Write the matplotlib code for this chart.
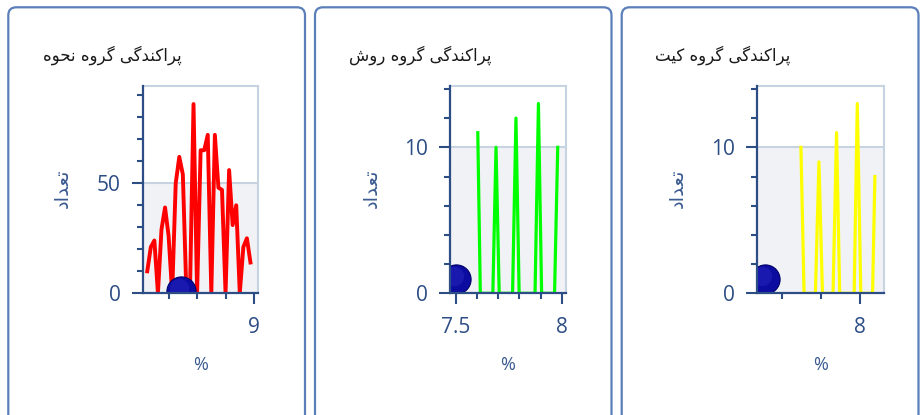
import matplotlib
matplotlib.use("Agg")
import matplotlib.pyplot as plt
from matplotlib.patches import FancyBboxPatch
from matplotlib.ticker import MultipleLocator, FixedLocator
from matplotlib.transforms import offset_copy

#--------------- Data ---------------------
titles = ["پراکندگی گروه نحوه", "پراکندگی گروه روش", "پراکندگی گروه کیت"]
ylabel = "تعداد"
xlabel = "%"

# group 1 (red)
x1 = [8.25 + 0.025 * i for i in range(30)]
y1 = [10, 21, 24, 0, 29, 39, 26, 0, 50, 62, 54, 0, 0, 86, 0,
      65, 65, 72, 0, 72, 48, 47, 0, 56, 31, 40, 0, 21, 25, 14]
# group 2 (green)
x2 = [7.604, 7.616, 7.675, 7.690, 7.705, 7.768, 7.784, 7.799, 7.874, 7.890, 7.905, 7.966, 7.981]
y2 = [11, 0, 0, 10, 0, 0, 12, 0, 0, 13, 0, 0, 10]
# group 3 (yellow)
x3 = [7.849, 7.857, 7.886, 7.895, 7.904, 7.931, 7.940, 7.948, 7.985, 7.993, 8.002, 8.032, 8.038]
y3 = [10, 0, 0, 9, 0, 0, 11, 0, 0, 13, 0, 0, 8]

# marker (ball) positions
ball_x = [8.49, 7.5, 7.756]
ball_y = [1, 1, 1]

#--------------- Persian shaping (no bidi lib available) ---------------
FORMS = {
    'پ': (0xFB56, 0xFB57, 0xFB58, 0xFB59),
    'ر': (0xFEAD, 0xFEAE),
    'ا': (0xFE8D, 0xFE8E),
    'ک': (0xFB8E, 0xFB8F, 0xFB90, 0xFB91),
    'ن': (0xFEE5, 0xFEE6, 0xFEE7, 0xFEE8),
    'د': (0xFEA9, 0xFEAA),
    'گ': (0xFB92, 0xFB93, 0xFB94, 0xFB95),
    'ی': (0xFBFC, 0xFBFD, 0xFBFE, 0xFBFF),
    'و': (0xFEED, 0xFEEE),
    'ه': (0xFEE9, 0xFEEA, 0xFEEB, 0xFEEC),
    'ح': (0xFEA1, 0xFEA2, 0xFEA3, 0xFEA4),
    'ش': (0xFEB5, 0xFEB6, 0xFEB7, 0xFEB8),
    'ت': (0xFE95, 0xFE96, 0xFE97, 0xFE98),
    'ع': (0xFEC9, 0xFECA, 0xFECB, 0xFECC),
}

def fa(s):
    out = []
    for i, c in enumerate(s):
        if c not in FORMS:
            out.append(c)
            continue
        f = FORMS[c]
        prev = s[i - 1] if i > 0 else ''
        nxt = s[i + 1] if i + 1 < len(s) else ''
        jp = prev in FORMS and len(FORMS[prev]) == 4
        jn = len(f) == 4 and nxt in FORMS
        if jp and jn:
            g = f[3]
        elif jp:
            g = f[1]
        elif jn:
            g = f[2]
        else:
            g = f[0]
        out.append(chr(g))
    return ''.join(reversed(out))

#--------------- Style ---------------------
plt.rcParams['font.family'] = ['Open Sans', 'DejaVu Sans']
W, H = 923, 415
dark = '#2d4d85'
light = '#c8d3e2'
band = '#f0f2f6'

fig = plt.figure(figsize=(W / 100, H / 100), dpi=100)

# panel frames (pixel coords)
frames = [(8.3, 305), (315, 611.5), (621.7, 918.5)]
for l, r in frames:
    fig.add_artist(FancyBboxPatch((l, -30), r - l, H - 7.3 + 30,
                                  boxstyle="round,pad=0,rounding_size=8",
                                  transform=None, fc='none', ec='#5b7fb9', lw=1.6))

# axes boxes in pixels: left, right
axbox = [(142.7, 258), (450, 566), (756.7, 884.3)]
top, bot = 86, 293.3
xlims = [(8.218, 9.028), (7.473, 8.020), (7.736, 8.062)]
ylims = [94.2, 14.2, 14.2]
band_top = [50, 10, 10]
ymajor = [50, 10, 10]
yminor = [10, 2, 2]
xmajor = [[9], [7.5, 8], [8]]
xminor = [[8.4, 8.6, 8.8], [7.6, 7.7, 7.8, 7.9], [7.8, 7.9]]
xs = [x1, x2, x3]
ys = [y1, y2, y3]
colors = ['#ff0000', '#00ff00', '#ffff00']
lws = [2.8, 2.3, 2.3]
title_x = [43, 349, 655]
ylab_x = [62, 371, 677]

for k in range(3):
    l, r = axbox[k]
    ax = fig.add_axes([l / W, 1 - bot / H, (r - l) / W, (bot - top) / H])
    ax.set_xlim(*xlims[k])
    ax.set_ylim(0, ylims[k])
    ax.axhspan(0, band_top[k], color=band, lw=0, zorder=0)
    ax.axhline(band_top[k], color=light, lw=1.5, zorder=1)
    ax.plot(xs[k], ys[k], color=colors[k], lw=lws[k], zorder=3,
            solid_joinstyle='round')
    # ball with a soft highlight
    ax.plot(ball_x[k], ball_y[k], 'o', ms=21, mfc='#0c0ca0', mec='#00006a',
            mew=0.8, zorder=4)
    hl = offset_copy(ax.transData, fig=fig, x=-1.5, y=2, units='points')
    ax.plot(ball_x[k], ball_y[k], 'o', ms=14, mfc='#2424bc', mec='none',
            alpha=0.55, zorder=4, transform=hl)

    for s in ['top', 'right']:
        ax.spines[s].set_color(light)
        ax.spines[s].set_linewidth(1.5)
    for s in ['left', 'bottom']:
        ax.spines[s].set_color(dark)
        ax.spines[s].set_linewidth(1.6)
        ax.spines[s].set_zorder(5)

    ax.yaxis.set_major_locator(MultipleLocator(ymajor[k]))
    ax.yaxis.set_minor_locator(MultipleLocator(yminor[k]))
    ax.xaxis.set_major_locator(FixedLocator(xmajor[k]))
    ax.xaxis.set_minor_locator(FixedLocator(xminor[k]))
    ax.xaxis.set_major_formatter(lambda v, p: '%g' % v)
    ax.tick_params(which='major', length=7.8, width=1.5, color=dark,
                   labelcolor=dark, labelsize=15, pad=9)
    ax.tick_params(which='minor', length=4.2, width=1.5, color=dark)
    ax.tick_params(axis='y', which='major', pad=8)

    fig.text(title_x[k] / W, 1 - 55 / H, fa(titles[k]), ha='left', va='center',
             fontsize=12, color='#1a1a1a', family=['DejaVu Sans'])
    fig.text(ylab_x[k] / W, 1 - 188 / H, fa(ylabel), rotation=90, ha='center',
             va='center', fontsize=14, color='#3a5a90', family=['DejaVu Sans'])
    fig.text((l + r) / 2 / W, 1 - 365 / H, xlabel, ha='center', va='center',
             fontsize=13, color='#3a5a90')

fig.savefig('out.png', dpi=100)
